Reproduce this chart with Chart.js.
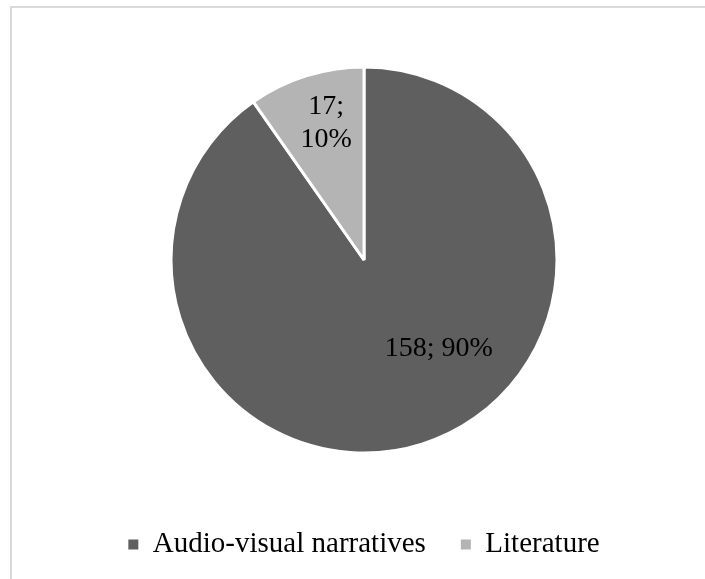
<!DOCTYPE html>
<html>
<head>
<meta charset="utf-8">
<script src="https://cdn.jsdelivr.net/npm/chart.js@4/dist/chart.umd.min.js"></script>
<style>
  html, body { margin: 0; padding: 0; background: #fff; }
  #wrap { position: relative; width: 705px; height: 579px; overflow: hidden; }
  #frame {
    position: absolute; left: 10px; top: 6px; width: 720px; height: 600px;
    border-top: 2px solid #d9d9d9; border-left: 2px solid #d9d9d9;
  }
  #chart { position: absolute; left: 0; top: 0; }
</style>
</head>
<body>
<div id="wrap">
  <div id="frame"></div>
  <canvas id="chart" width="705" height="579"></canvas>
</div>
<script>
const categories = ['Audio-visual narratives', 'Literature'];
const counts = [158, 17];
const percents = [90, 10];
const sliceColors = ['#5f5f5f', '#b4b4b4'];

// where each value label sits: share of the slice's angle, share of the radius
const labelAngleShare = [0.43, 0.56];
const labelRadiusShare = [0.6, 0.74];

const serif = "'Liberation Serif', 'Times New Roman', serif";

const sliceLabels = {
  id: 'sliceLabels',
  afterDatasetsDraw(chart) {
    const ctx = chart.ctx;
    const arcs = chart.getDatasetMeta(0).data;
    ctx.save();
    ctx.font = '28px ' + serif;
    ctx.fillStyle = '#000';
    ctx.textAlign = 'center';
    ctx.textBaseline = 'middle';
    arcs.forEach(function(arc, i) {
      const p = arc.getProps(['x', 'y', 'startAngle', 'endAngle', 'outerRadius'], true);
      const a = p.startAngle + (p.endAngle - p.startAngle) * labelAngleShare[i];
      const r = p.outerRadius * labelRadiusShare[i];
      const cx = p.x + Math.cos(a) * r;
      const cy = p.y + Math.sin(a) * r;
      // the narrow slice gets its label on two lines
      if (p.endAngle - p.startAngle < 1) {
        ctx.fillText(counts[i] + ';', cx, cy - 16);
        ctx.fillText(percents[i] + '%', cx, cy + 17);
      } else {
        ctx.fillText(counts[i] + '; ' + percents[i] + '%', cx, cy);
      }
    });
    ctx.restore();
  }
};

new Chart(document.getElementById('chart'), {
  type: 'pie',
  data: {
    labels: categories,
    datasets: [{
      data: counts,
      backgroundColor: sliceColors,
      borderColor: '#ffffff',
      borderWidth: 3,
      radius: 193
    }]
  },
  options: {
    responsive: false,
    animation: false,
    layout: { padding: { left: 23, right: 0, top: 25, bottom: 10 } },
    plugins: {
      tooltip: { enabled: false },
      legend: {
        position: 'bottom',
        labels: {
          boxWidth: 10,
          boxHeight: 10,
          padding: 35,
          color: '#000',
          font: { family: serif, size: 29 },
          // plain filled squares, without the white slice border
          generateLabels(chart) {
            return Chart.controllers.pie.overrides.plugins.legend.labels.generateLabels(chart)
              .map(function(item) {
                item.lineWidth = 0;
                item.strokeStyle = item.fillStyle;
                return item;
              });
          }
        }
      }
    }
  },
  plugins: [sliceLabels]
});
</script>
</body>
</html>
